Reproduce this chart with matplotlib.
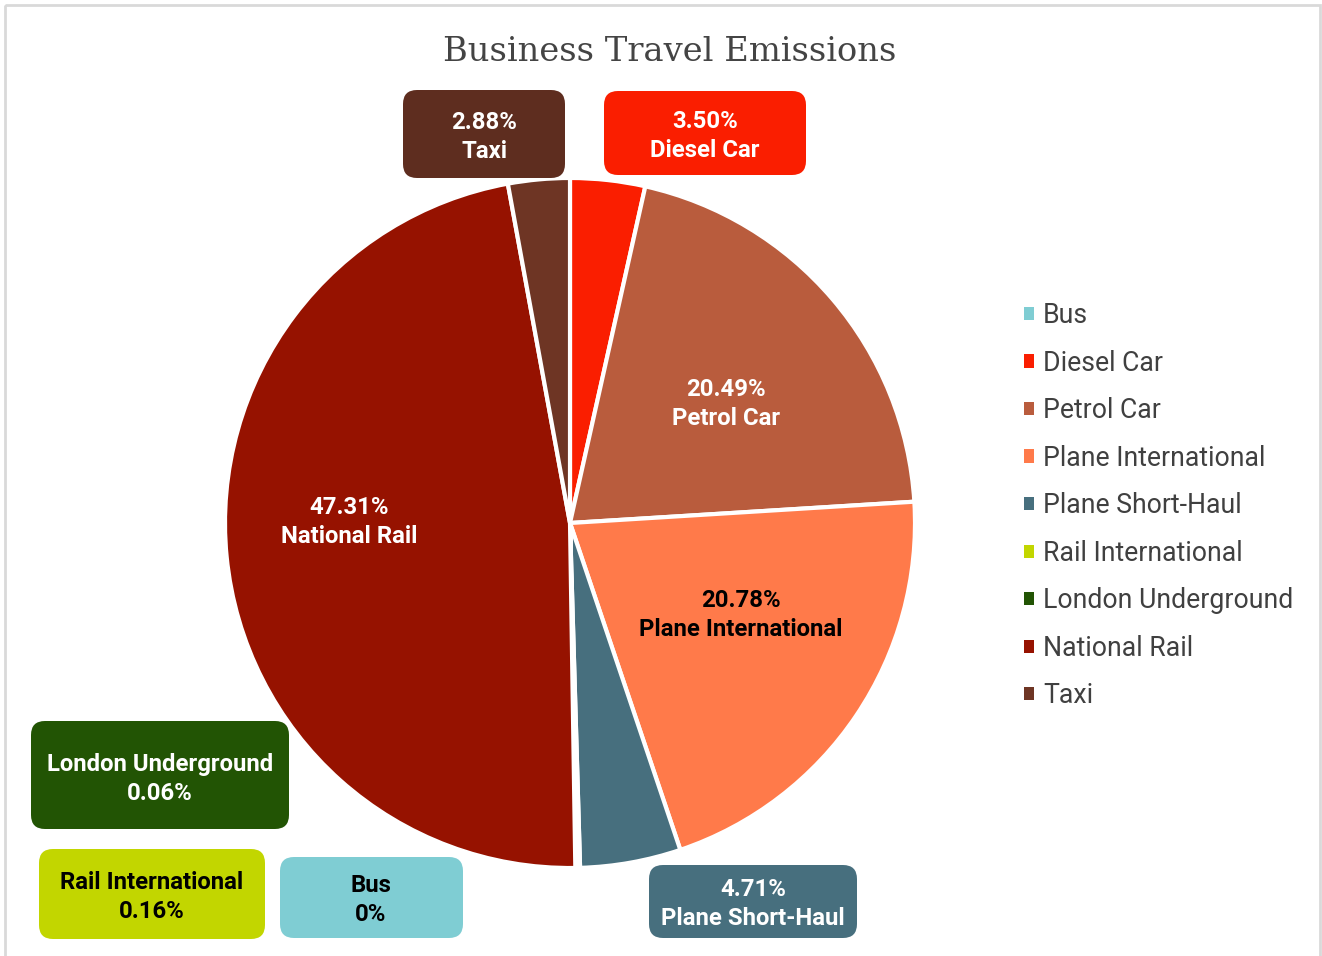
import matplotlib.pyplot as plt
from matplotlib.patches import FancyBboxPatch, Patch, Rectangle

# data
categories = ["Bus", "Diesel Car", "Petrol Car", "Plane International", "Plane Short-Haul",
              "Rail International", "London Underground", "National Rail", "Taxi"]
shares = [0.0, 3.50, 20.49, 20.78, 4.71, 0.16, 0.06, 47.31, 2.88]
pct_labels = ["0%", "3.50%", "20.49%", "20.78%", "4.71%", "0.16%", "0.06%", "47.31%", "2.88%"]
colors = ["#7FCDD3", "#FA1E00", "#B95C3D", "#FF7A4A", "#476F7E",
          "#C2D600", "#225404", "#961200", "#6E3524"]

# label layout in figure pixels: center x, center y, box (x0, y0, w, h) or None, text color, name first?
label_layout = {
    "Bus": (371, 900, (280, 857, 183, 81), "black", True),
    "Diesel Car": (705, 136, (604, 91, 202, 84), "white", False),
    "Petrol Car": (726, 404, None, "white", False),
    "Plane International": (741, 615, None, "black", False),
    "Plane Short-Haul": (753, 904, (649, 865, 208, 73), "white", False),
    "Rail International": (152, 897, (39, 849, 226, 90), "black", True),
    "London Underground": (160, 779, (31, 721, 258, 108), "white", True),
    "National Rail": (349, 522, None, "white", False),
    "Taxi": (484, 137, (403, 90, 162, 88), "white", False),
}
box_colors = {"Taxi": "#5E2D1F"}

W, H = 1322, 956
fig = plt.figure(figsize=(W / 100, H / 100), dpi=100)

# pie
cx, cy, r = 570, 523, 345
ax = fig.add_axes([(cx - r) / W, (H - cy - r) / H, 2 * r / W, 2 * r / H])
ax.pie(shares, colors=colors, startangle=90, counterclock=False, radius=1,
       wedgeprops=dict(edgecolor="white", linewidth=3))
ax.set_xlim(-1, 1)
ax.set_ylim(-1, 1)
ax.set_aspect("equal")
ax.axis("off")

# overlay in pixel coords
ov = fig.add_axes([0, 0, 1, 1], facecolor="none")
ov.set_xlim(0, W)
ov.set_ylim(H, 0)
ov.axis("off")

ov.add_patch(Rectangle((5, 5), W - 7, H + 10, fill=False, edgecolor="#D9D9D9", linewidth=2))

ov.text(670, 52, "Business Travel Emissions", ha="center", va="center",
        fontsize=24.3, family="DejaVu Serif", color="#444444")

for name, pct, col in zip(categories, pct_labels, colors):
    lx, ly, box, tcol, name_first = label_layout[name]
    if box is not None:
        x0, y0, bw, bh = box
        ov.add_patch(FancyBboxPatch((x0, y0), bw, bh,
                                    boxstyle="round,pad=0,rounding_size=14",
                                    facecolor=box_colors.get(name, col), edgecolor="none"))
    s = f"{name}\n{pct}" if name_first else f"{pct}\n{name}"
    ov.text(lx, ly, s, ha="center", va="center", multialignment="center",
            fontsize=17.2, family="Roboto", fontweight="bold", color=tcol, linespacing=1.28)

handles = [Patch(facecolor=c, edgecolor="none") for c in colors]
leg = fig.legend(handles, categories, loc="upper left", bbox_to_anchor=(1000 / W, 1 - 278 / H),
                 frameon=False, handlelength=0.38, handleheight=0.38, handletextpad=0.33,
                 labelspacing=0.77, prop={"family": "Roboto", "size": 19.2})
for t in leg.get_texts():
    t.set_color("#404040")

fig.savefig("out.png", dpi=100)
